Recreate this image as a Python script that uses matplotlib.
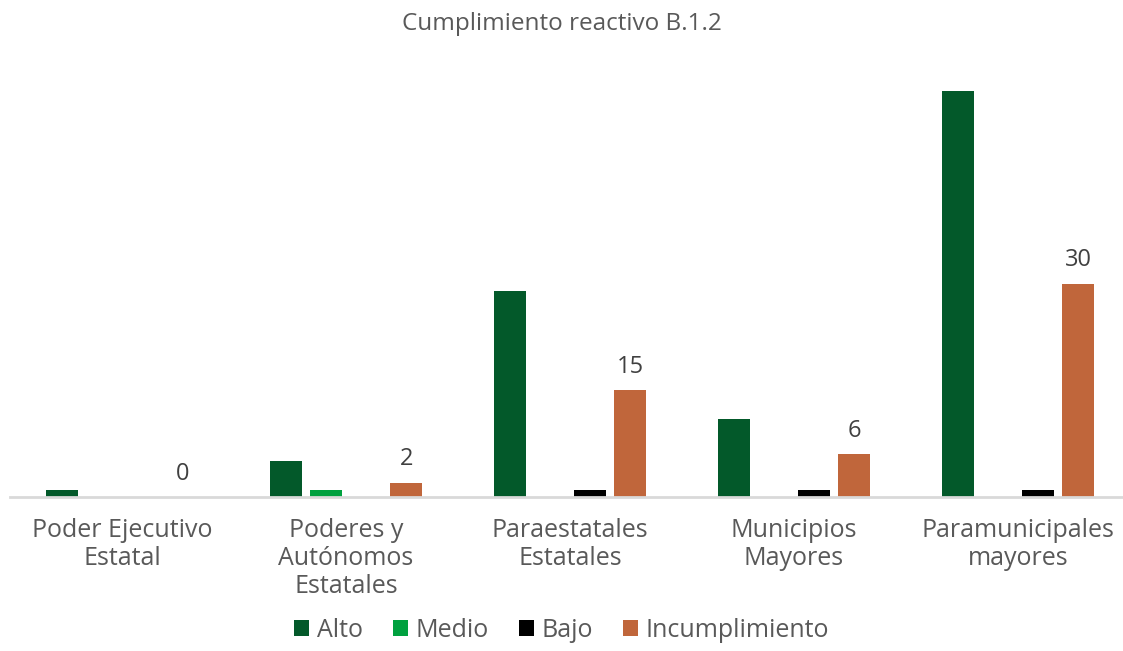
import matplotlib.pyplot as plt
import numpy as np

plt.rcParams['font.family'] = ['Open Sans', 'DejaVu Sans']

categorias = ['Poder Ejecutivo\nEstatal', 'Poderes y\nAutónomos\nEstatales',
              'Paraestatales\nEstatales', 'Municipios\nMayores', 'Paramunicipales\nmayores']
series = ['Alto', 'Medio', 'Bajo', 'Incumplimiento']
alto = [1, 5, 29, 11, 57]
medio = [0, 1, 0, 0, 0]
bajo = [0, 0, 1, 1, 1]
incumplimiento = [0, 2, 15, 6, 30]
colores = ['#03592A', '#00A13F', '#000000', '#C0663B']

gris = '#595959'

fig = plt.figure(figsize=(11.23, 6.51), dpi=100)
ax = fig.add_axes([10 / 1123, 154 / 651, 1120 / 1123, 424 / 651])

x = np.arange(len(categorias))
paso = 0.18
ancho = 0.143
datos = [alto, medio, bajo, incumplimiento]
for i, (nombre, vals, c) in enumerate(zip(series, datos, colores)):
    pos = x + (i - 1.5) * paso
    bars = ax.bar(pos, vals, width=ancho, color=c, label=nombre)
    if nombre == 'Incumplimiento':
        for b, v in zip(bars, vals):
            ax.text(b.get_x() + b.get_width() / 2, v + 1.6, str(v),
                    ha='center', va='bottom', fontsize=17, color='#404040')

ax.set_xlim(-0.5, 4.5)
ax.set_ylim(0, 59.6)
ax.set_yticks([])
ax.set_xticks(x)
ax.set_xticklabels(categorias, fontsize=18, color=gris, linespacing=1.15)
ax.tick_params(axis='x', length=0, pad=15)
for s in ['top', 'right', 'left']:
    ax.spines[s].set_visible(False)
ax.spines['bottom'].set_color('#D9D9D9')
ax.spines['bottom'].set_linewidth(2)

fig.text(0.5, 0.963, 'Cumplimiento reactivo B.1.2', ha='center', va='center',
         fontsize=17.5, color=gris)

leg = fig.legend(loc='lower center', bbox_to_anchor=(0.5, -0.022), ncol=4,
                 frameon=False, fontsize=18, handlelength=0.6, handleheight=0.6,
                 handletextpad=0.3, columnspacing=1.2)
for t in leg.get_texts():
    t.set_color(gris)

fig.savefig('out.png', dpi=100)
